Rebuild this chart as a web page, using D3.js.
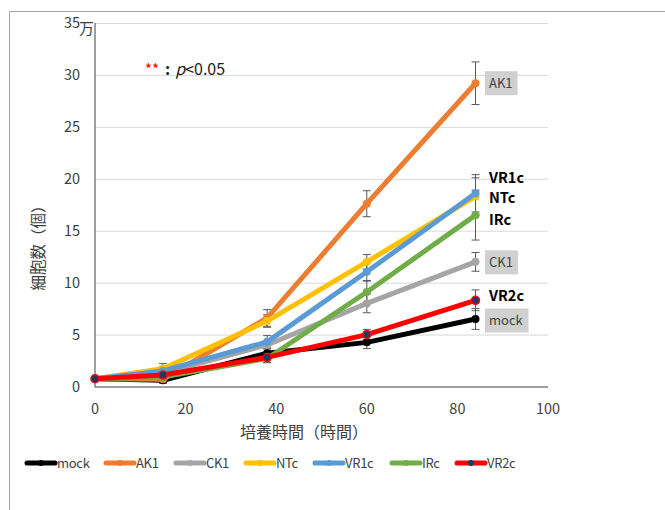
<!DOCTYPE html>
<html>

<head>
  <meta charset="utf-8">
  <title>細胞数</title>
  <script type="text/javascript" src="https://cdn.jsdelivr.net/npm/d3@7"></script>
  <style type="text/css">
    body { margin: 0; background: #fff; }
    text { font-family: "Noto Sans CJK JP", "Noto Sans", sans-serif; }
  </style>
</head>

<body>
  <script type="text/javascript">

    // 時間 (培養時間)
    const hours = [0, 15, 38, 60, 84];

    // 系列名と色
    const seriesNames = ["mock", "AK1", "CK1", "NTc", "VR1c", "IRc", "VR2c"];
    const seriesColors = ["#000000", "#ED7D31", "#A5A5A5", "#FFC000", "#5B9BD5", "#70AD47", "#FF0000"];

    // 細胞数 (万)
    const mock = [0.75, 0.6, 3.2, 4.25, 6.5];
    const ak1 = [0.75, 0.7, 6.6, 17.6, 29.2];
    const ck1 = [0.75, 1.3, 4.0, 8.0, 12.0];
    const ntc = [0.75, 1.7, 6.3, 12.0, 18.3];
    const vr1c = [0.75, 1.5, 4.3, 11.05, 18.6];
    const irc = [0.75, 0.9, 2.7, 9.1, 16.5];
    const vr2c = [0.75, 1.1, 2.8, 5.0, 8.3];

    // 誤差 (±)
    const mockErr = [0.1, 0.3, 0.5, 0.6, 1.0];
    const ak1Err = [0.1, 0.3, 0.8, 1.25, 2.05];
    const ck1Err = [0.1, 0.3, 0.4, 0.9, 0.9];
    const ntcErr = [0.1, 0.5, 0.6, 0.7, 1.8];
    const vr1cErr = [0.1, 0.4, 0.6, 0.9, 1.8];
    const ircErr = [0.1, 0.3, 0.4, 1.1, 2.4];
    const vr2cErr = [0.1, 0.3, 0.5, 0.5, 1.0];

    const yTicks = [0, 5, 10, 15, 20, 25, 30, 35];
    const xTicks = [0, 20, 40, 60, 80, 100];

    const allValues = [mock, ak1, ck1, ntc, vr1c, irc, vr2c];
    const allErrs = [mockErr, ak1Err, ck1Err, ntcErr, vr1cErr, ircErr, vr2cErr];

    // 右端のラベル
    const endLabels = [
      { name: "AK1", bold: false, box: true, v: 29.2 },
      { name: "VR1c", bold: true, box: false, v: 20.1 },
      { name: "NTc", bold: true, box: false, v: 18.2 },
      { name: "IRc", bold: true, box: false, v: 16.0 },
      { name: "CK1", bold: false, box: true, v: 11.95 },
      { name: "VR2c", bold: true, box: false, v: 8.7 },
      { name: "mock", bold: false, box: true, v: 6.35 }
    ];

    const series = seriesNames.map(function (n, i) {
      return {
        name: n,
        color: seriesColors[i],
        points: hours.map(function (h, j) {
          return { x: h, y: allValues[i][j], e: allErrs[i][j] };
        })
      };
    });

    const w = 665;
    const h = 510;

    const x = d3.scaleLinear().domain([0, 100]).range([95, 548]);
    const y = d3.scaleLinear().domain([0, 35]).range([386.5, 23]);

    const svg = d3.select("body")
      .append("svg")
      .attr("width", w)
      .attr("height", h);

    // 枠
    svg.append("rect")
      .attr("x", 9.5).attr("y", 11.5)
      .attr("width", 700).attr("height", 600)
      .attr("fill", "none")
      .attr("stroke", "#a6a6a6");

    // グリッド
    svg.append("g")
      .attr("transform", "translate(95,0)")
      .call(d3.axisLeft(y).tickValues(yTicks.slice(1)).tickSize(-(548 - 95)).tickFormat(""))
      .call(function (g) {
        g.select(".domain").remove();
        g.selectAll("line").attr("stroke", "#d9d9d9");
      });

    // 軸線
    svg.append("line")
      .attr("x1", 95).attr("x2", 95).attr("y1", 23).attr("y2", 387)
      .attr("stroke", "#404040");
    svg.append("line")
      .attr("x1", 95).attr("x2", 548).attr("y1", 387).attr("y2", 387)
      .attr("stroke", "#404040");

    // Y目盛
    svg.append("g")
      .selectAll("text")
      .data(yTicks)
      .enter()
      .append("text")
      .attr("x", 80)
      .attr("y", function (d) { return y(d); })
      .attr("dy", "0.35em")
      .attr("text-anchor", "end")
      .attr("font-size", 14.5)
      .attr("fill", "#404040")
      .text(function (d) { return d; });

    svg.append("text")
      .attr("x", 79).attr("y", 34)
      .attr("font-size", 15)
      .attr("fill", "#404040")
      .text("万");

    // X目盛
    svg.append("g")
      .selectAll("text")
      .data(xTicks)
      .enter()
      .append("text")
      .attr("x", function (d) { return x(d); })
      .attr("y", 409)
      .attr("dy", "0.35em")
      .attr("text-anchor", "middle")
      .attr("font-size", 14.5)
      .attr("fill", "#404040")
      .text(function (d) { return d; });

    // 軸タイトル
    svg.append("text")
      .attr("x", 304).attr("y", 432)
      .attr("dy", "0.35em")
      .attr("text-anchor", "middle")
      .attr("font-size", 16)
      .attr("fill", "#404040")
      .text("培養時間（時間）");

    svg.append("text")
      .attr("transform", "translate(39,244) rotate(-90)")
      .attr("dy", "0.35em")
      .attr("text-anchor", "middle")
      .attr("font-size", 15.5)
      .attr("fill", "#404040")
      .text("細胞数（個）");

    // 注記
    const note = svg.append("text")
      .attr("x", 145).attr("y", 69)
      .attr("dy", "0.35em")
      .attr("font-size", 16);
    note.append("tspan").attr("fill", "#ff0000").attr("font-size", 15).text("**");
    note.append("tspan").attr("fill", "#222").attr("dx", 6).attr("font-weight", "bold").text(":");
    note.append("tspan").attr("fill", "#222").attr("dx", 5).attr("font-style", "italic").text("p");
    note.append("tspan").attr("fill", "#222").text("<0.05");

    // 誤差バー
    const errG = svg.append("g");
    series.forEach(function (s) {
      s.points.forEach(function (p) {
        if (p.x === 0) return;
        const y1 = y(p.y + p.e);
        const y2 = y(p.y - p.e);
        errG.append("line")
          .attr("x1", x(p.x)).attr("x2", x(p.x))
          .attr("y1", y1).attr("y2", y2)
          .attr("stroke", "#595959").attr("stroke-width", 1);
        [y1, y2].forEach(function (yy) {
          errG.append("line")
            .attr("x1", x(p.x) - 4).attr("x2", x(p.x) + 4)
            .attr("y1", yy).attr("y2", yy)
            .attr("stroke", "#595959").attr("stroke-width", 1);
        });
      });
    });

    // 線
    const line = d3.line()
      .x(function (d) { return x(d.x); })
      .y(function (d) { return y(d.y); });

    series.forEach(function (s) {
      const g = svg.append("g");
      g.append("path")
        .datum(s.points)
        .attr("d", line)
        .attr("fill", "none")
        .attr("stroke", s.color)
        .attr("stroke-width", 5)
        .attr("stroke-linejoin", "round")
        .attr("stroke-linecap", "round");
      g.selectAll("circle")
        .data(s.points)
        .enter()
        .append("circle")
        .attr("cx", function (d) { return x(d.x); })
        .attr("cy", function (d) { return y(d.y); })
        .attr("r", 4)
        .attr("fill", s.name === "VR2c" ? "#203864" : s.color)
        .attr("stroke", s.color)
        .attr("stroke-width", s.name === "VR2c" ? 1.5 : 0);
    });

    // 右端ラベル
    endLabels.forEach(function (l) {
      const ly = y(l.v);
      const t = svg.append("text")
        .attr("x", 489)
        .attr("y", ly)
        .attr("dy", "0.35em")
        .attr("font-size", l.bold ? 14.5 : 13)
        .attr("font-weight", l.bold ? "bold" : "normal")
        .attr("fill", l.bold ? "#000" : "#404040")
        .text(l.name);
      if (l.box) {
        const bb = t.node().getBBox();
        svg.insert("rect", function () { return t.node(); })
          .attr("x", 485).attr("y", ly - 12)
          .attr("width", bb.width + 9).attr("height", 24)
          .attr("fill", "#d0d0d0");
      }
    });

    // 凡例
    const legendX = [27, 106, 176, 246, 315, 392, 457];
    series.forEach(function (s, i) {
      const lx = legendX[i];
      const ly = 463;
      svg.append("line")
        .attr("x1", lx).attr("x2", lx + 28)
        .attr("y1", ly).attr("y2", ly)
        .attr("stroke", s.color)
        .attr("stroke-width", 5)
        .attr("stroke-linecap", "round");
      svg.append("circle")
        .attr("cx", lx + 14).attr("cy", ly).attr("r", 3)
        .attr("fill", s.name === "VR2c" ? "#203864" : s.color);
      svg.append("text")
        .attr("x", lx + 30).attr("y", ly)
        .attr("dy", "0.35em")
        .attr("font-size", 13)
        .attr("letter-spacing", -0.3)
        .attr("fill", "#404040")
        .text(s.name);
    });

  </script>
</body>

</html>
